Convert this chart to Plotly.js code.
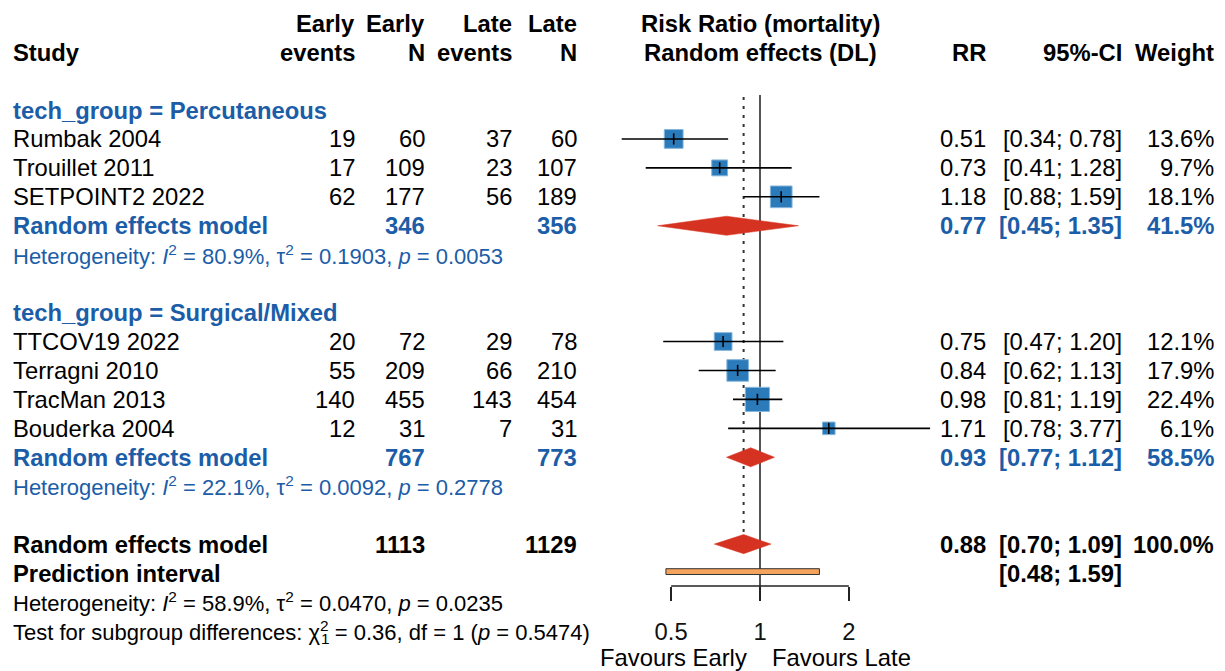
<!DOCTYPE html>
<html>
<head>
<meta charset="utf-8">
<script src="https://cdn.plot.ly/plotly-3.0.1.min.js"></script>
<style>html,body{margin:0;padding:0;background:#fff;}#chart{width:1225px;height:671px;}</style>
</head>
<body>
<div id="chart"></div>
<script>
// ---------------- data ----------------
const studies      = ["Rumbak 2004", "Trouillet 2011", "SETPOINT2 2022", "TTCOV19 2022", "Terragni 2010", "TracMan 2013", "Bouderka 2004"];
const studyGroup   = [0, 0, 0, 1, 1, 1, 1];
const earlyEvents  = [19, 17, 62, 20, 55, 140, 12];
const earlyN       = [60, 109, 177, 72, 209, 455, 31];
const lateEvents   = [37, 23, 56, 29, 66, 143, 7];
const lateN        = [60, 107, 189, 78, 210, 454, 31];
const rr           = [0.51, 0.73, 1.18, 0.75, 0.84, 0.98, 1.71];
const ciLower      = [0.34, 0.41, 0.88, 0.47, 0.62, 0.81, 0.78];
const ciUpper      = [0.78, 1.28, 1.59, 1.20, 1.13, 1.19, 3.77];
const weightPct    = [13.6, 9.7, 18.1, 12.1, 17.9, 22.4, 6.1];

const groupNames   = ["Percutaneous", "Surgical/Mixed"];
const groupRR      = [0.77, 0.93];
const groupLower   = [0.45, 0.77];
const groupUpper   = [1.35, 1.12];
const groupWeight  = [41.5, 58.5];
const groupEarlyN  = [346, 767];
const groupLateN   = [356, 773];
const groupI2      = ["80.9%", "22.1%"];
const groupTau2    = ["0.1903", "0.0092"];
const groupP       = ["0.0053", "0.2778"];

const overallRR    = 0.88, overallLower = 0.70, overallUpper = 1.09;
const overallEarlyN = 1113, overallLateN = 1129;
const predLower    = 0.48, predUpper = 1.59;
const overallI2    = "58.9%", overallTau2 = "0.0470", overallP = "0.0235";
const testChi2     = "0.36", testDf = "1", testP = "0.5474";

const tickVals     = [0.5, 1, 2];
const tickLabels   = ["0.5", "1", "2"];

// ---------------- layout constants ----------------
const W = 1225, H = 671;
const FONT = "Liberation Sans, Arial, Helvetica, sans-serif";
const FS = 23.8, FSH = 22;
const BLUE = "#1c5da8";
const SQUARE = "#2b7bbb", DIAMOND = "#d63221", PRED = "#f5a45e";
const col = {study: 12, ee: 356, en: 426, le: 513, ln: 578, rr: 987, ci: 1123, w: 1215};

const annotations = [];
function txt(text, xpx, row, anchor, opt) {
  opt = opt || {};
  annotations.push({
    text: text, xref: "paper", x: xpx / W, yref: "y", y: row,
    xanchor: anchor, yanchor: "middle", showarrow: false, borderpad: 0,
    font: {family: FONT, size: opt.size || FS, color: opt.color || "#000"},
    yshift: opt.yshift || 0
  });
}
const b = s => "<b>" + s + "</b>";
const f2 = v => v.toFixed(2);
const ciTxt = (lo, hi) => "[" + f2(lo) + "; " + f2(hi) + "]";

// header
txt(b("Study"), col.study, -1, "left");
txt(b("Early"), col.ee, -2, "right"); txt(b("events"), col.ee, -1, "right");
txt(b("Early"), col.en, -2, "right"); txt(b("N"), col.en, -1, "right");
txt(b("Late"), col.le, -2, "right");  txt(b("events"), col.le, -1, "right");
txt(b("Late"), col.ln, -2, "right");  txt(b("N"), col.ln, -1, "right");
txt(b("RR"), col.rr, -1, "right");
txt(b("95%-CI"), col.ci, -1, "right");
txt(b("Weight"), col.w, -1, "right");
annotations.push({text: b("Risk Ratio (mortality)"), xref: "x", x: 0, yref: "y", y: -2, xanchor: "center", yanchor: "middle", showarrow: false, borderpad: 0, font: {family: FONT, size: FS, color: "#000"}});
annotations.push({text: b("Random effects (DL)"), xref: "x", x: 0, yref: "y", y: -1, xanchor: "center", yanchor: "middle", showarrow: false, borderpad: 0, font: {family: FONT, size: FS, color: "#000"}});

// rows
const studyRows = [];
const groupRows = [];
let row = 1;
for (let g = 0; g < groupNames.length; g++) {
  txt(b("tech_group = " + groupNames[g]), col.study, row, "left", {color: BLUE});
  row++;
  for (let i = 0; i < studies.length; i++) {
    if (studyGroup[i] !== g) continue;
    studyRows[i] = row;
    txt(studies[i], col.study, row, "left");
    txt(String(earlyEvents[i]), col.ee, row, "right");
    txt(String(earlyN[i]), col.en, row, "right");
    txt(String(lateEvents[i]), col.le, row, "right");
    txt(String(lateN[i]), col.ln, row, "right");
    txt(f2(rr[i]), col.rr, row, "right");
    txt(ciTxt(ciLower[i], ciUpper[i]), col.ci, row, "right");
    txt(weightPct[i].toFixed(1) + "%", col.w, row, "right");
    row++;
  }
  groupRows[g] = row;
  txt(b("Random effects model"), col.study, row, "left", {color: BLUE});
  txt(b(String(groupEarlyN[g])), col.en, row, "right", {color: BLUE});
  txt(b(String(groupLateN[g])), col.ln, row, "right", {color: BLUE});
  txt(b(f2(groupRR[g])), col.rr, row, "right", {color: BLUE});
  txt(b(ciTxt(groupLower[g], groupUpper[g])), col.ci, row, "right", {color: BLUE});
  txt(b(groupWeight[g].toFixed(1) + "%"), col.w, row, "right", {color: BLUE});
  row++;
  txt("Heterogeneity: <i>I</i><sup>2</sup> = " + groupI2[g] + ", τ<sup>2</sup> = " + groupTau2[g] + ", <i>p</i> = " + groupP[g],
      col.study, row, "left", {color: BLUE, size: FSH});
  row += 2;
}
const overallRow = row;
txt(b("Random effects model"), col.study, row, "left");
txt(b(String(overallEarlyN)), col.en, row, "right");
txt(b(String(overallLateN)), col.ln, row, "right");
txt(b(f2(overallRR)), col.rr, row, "right");
txt(b(ciTxt(overallLower, overallUpper)), col.ci, row, "right");
txt(b("100.0%"), col.w, row, "right");
row++;
const predRow = row;
txt(b("Prediction interval"), col.study, row, "left");
txt(b(ciTxt(predLower, predUpper)), col.ci, row, "right");
row++;
txt("Heterogeneity: <i>I</i><sup>2</sup> = " + overallI2 + ", τ<sup>2</sup> = " + overallTau2 + ", <i>p</i> = " + overallP,
    col.study, row, "left", {size: FSH});
row++;
const testPrefix = "Test for subgroup differences: χ";
txt(testPrefix + "<sup>2</sup> = " + testChi2 + ", df = " + testDf + " (<i>p</i> = " + testP + ")", col.study, row, "left", {size: FSH});
// subscript under the superscript of chi-square
const ctx = document.createElement("canvas").getContext("2d");
ctx.font = FSH + "px 'Liberation Sans', Arial, sans-serif";
const prefixW = ctx.measureText(testPrefix).width;
txt(testDf, col.study + prefixW + 0.5, row, "left", {size: FSH * 0.7, yshift: -8});
row++;
const favRow = row;
annotations.push({text: "Favours Early", xref: "x", x: 0, xshift: -12, yref: "y", y: favRow, yshift: 2, xanchor: "right", yanchor: "middle", showarrow: false, borderpad: 0, font: {family: FONT, size: FS, color: "#000"}});
annotations.push({text: "Favours Late", xref: "x", x: 0, xshift: 11, yref: "y", y: favRow, yshift: 2, xanchor: "left", yanchor: "middle", showarrow: false, borderpad: 0, font: {family: FONT, size: FS, color: "#000"}});

// ---------------- traces ----------------
const traces = [];
// squares (area proportional to weight)
traces.push({
  type: "scatter", mode: "markers", x: rr, y: studyRows, hoverinfo: "skip",
  marker: {symbol: "square", opacity: 1, size: weightPct.map(w => 5.1 * Math.sqrt(w)), color: SQUARE, line: {color: "#86b6dc", width: 1}}
});
// CI lines
const lx = [], ly = [];
for (let i = 0; i < studies.length; i++) { lx.push(ciLower[i], ciUpper[i], null); ly.push(studyRows[i], studyRows[i], null); }
traces.push({type: "scatter", mode: "lines", x: lx, y: ly, line: {color: "#000", width: 1.6}, hoverinfo: "skip"});
// estimate ticks
traces.push({type: "scatter", mode: "markers", x: rr, y: studyRows, hoverinfo: "skip",
  marker: {symbol: "line-ns", size: 8, opacity: 1, line: {color: "#000", width: 1.6}}});
// diamonds
const DH = 0.33;
function diamond(lo, est, hi, r) {
  traces.push({type: "scatter", mode: "lines", x: [lo, est, hi, est, lo], y: [r, r - DH, r, r + DH, r],
    fill: "toself", fillcolor: DIAMOND, line: {color: DIAMOND, width: 0.5}, hoverinfo: "skip"});
}
for (let g = 0; g < groupNames.length; g++) diamond(groupLower[g], groupRR[g], groupUpper[g], groupRows[g]);
diamond(overallLower, overallRR, overallUpper, overallRow);
// prediction interval
const PH = 0.1, pr = predRow - 0.05;
traces.push({type: "scatter", mode: "lines", x: [predLower, predUpper, predUpper, predLower, predLower],
  y: [pr - PH, pr - PH, pr + PH, pr + PH, pr - PH], fill: "toself", fillcolor: PRED,
  line: {color: "#333", width: 1}, hoverinfo: "skip"});

// ---------------- shapes ----------------
const rowOfPx = p => 1 + (p - 110) / 28.94;
const shapes = [
  {type: "line", layer: "below", xref: "x", yref: "y", x0: 1, x1: 1, y0: rowOfPx(95), y1: rowOfPx(600), line: {color: "#555", width: 2}},
  {type: "line", layer: "below", xref: "x", yref: "y", x0: overallRR, x1: overallRR, y0: rowOfPx(97), y1: rowOfPx(532), line: {color: "#333", width: 2, dash: "3px,6px"}},
  {type: "line", layer: "above", xref: "x", yref: "y", x0: tickVals[0], x1: tickVals[tickVals.length - 1], y0: rowOfPx(586), y1: rowOfPx(586), line: {color: "#222", width: 1.5}}
];

const layout = {
  width: W, height: H, margin: {l: 0, r: 0, t: 0, b: 0},
  paper_bgcolor: "#fff", plot_bgcolor: "#fff", showlegend: false,
  font: {family: FONT, size: FS, color: "#000"},
  xaxis: {type: "log", range: [-2.5750, 1.5755], domain: [0, 1], anchor: "free", position: 1 - 586 / H,
    showgrid: false, zeroline: false, showline: false, automargin: false,
    ticks: "outside", ticklen: 14, tickwidth: 1.5, tickcolor: "#222", ticklabelstandoff: 10,
    tickvals: tickVals, ticktext: tickLabels, tickfont: {family: FONT, size: FS, color: "#111"}},
  yaxis: {range: [1 + 561 / 28.94, 1 - 110 / 28.94], visible: false, automargin: false, fixedrange: true},
  annotations: annotations, shapes: shapes
};
Plotly.newPlot("chart", traces, layout, {staticPlot: true, displayModeBar: false});
</script>
</body>
</html>
